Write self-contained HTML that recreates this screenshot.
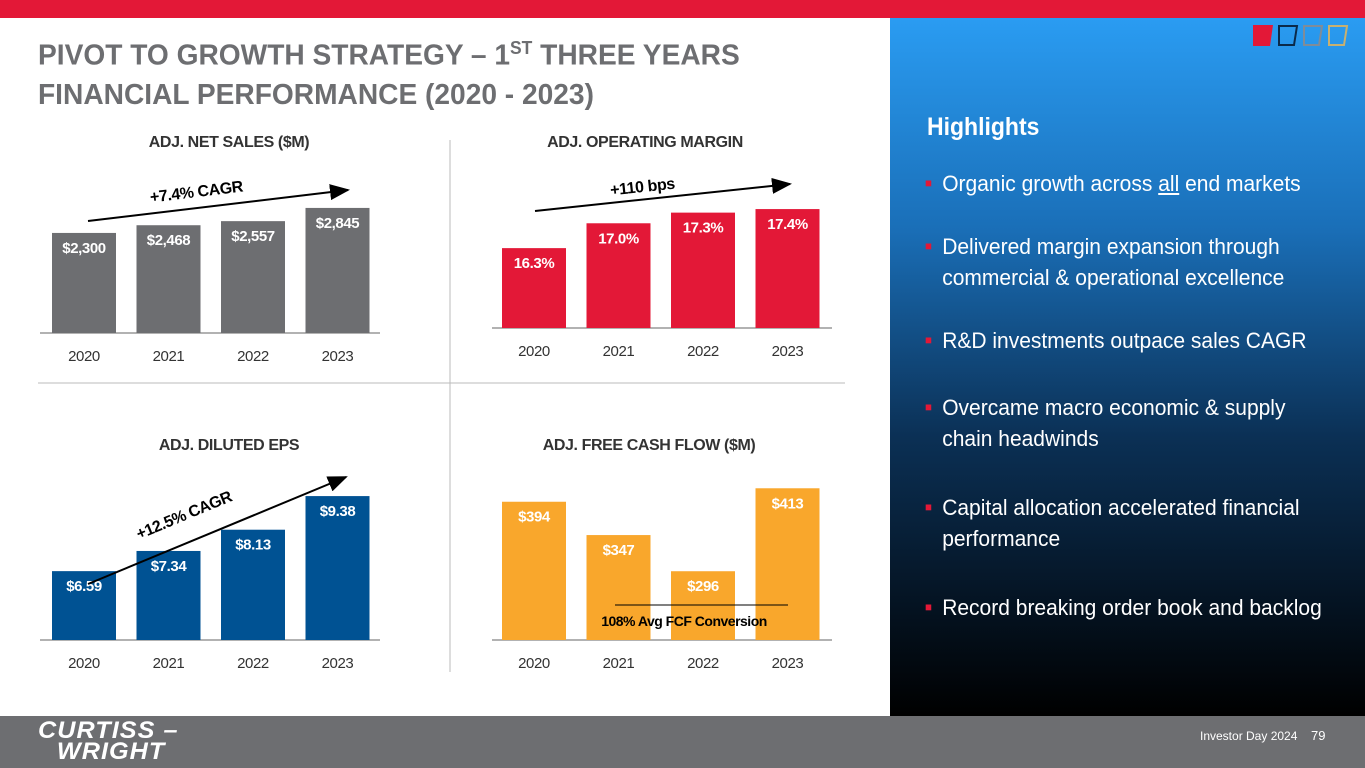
<!DOCTYPE html>
<html><head><meta charset="utf-8"><style>
body{margin:0;width:1365px;height:768px;overflow:hidden;background:#fff;font-family:"Liberation Sans",sans-serif;position:relative}
.abs{position:absolute}
</style></head><body>
<div class="abs" style="left:0;top:0;width:1365px;height:18px;background:#e31837"></div>
<div class="abs" style="left:890px;top:18px;width:475px;height:698px;background:linear-gradient(#2a9cf2 0%,#1a6fb8 30%,#0b3055 60%,#000 100%)"></div>
<div class="abs" style="left:0;top:716px;width:1365px;height:52px;background:#6d6e71"></div>
<div class="abs" style="left:38px;top:29px;font-size:29px;font-weight:bold;color:#6d6e71;line-height:39px;transform:scaleX(0.97);transform-origin:0 0;white-space:nowrap">PIVOT TO GROWTH STRATEGY – 1<sup style="font-size:18px">ST</sup> THREE YEARS<br>FINANCIAL PERFORMANCE (2020 - 2023)</div>
<svg class="abs" style="left:1250px;top:22px" width="110" height="28">
<polygon points="3,3 23,3 20,24 3,24" fill="#e31837"/>
<polygon points="29,4 47,4 44,23 29,23" fill="none" stroke="#0b2a4a" stroke-width="2"/>
<polygon points="54,4 72,4 69,23 54,23" fill="none" stroke="#7f8c99" stroke-width="2"/>
<polygon points="79,4 97,4 94,23 79,23" fill="none" stroke="#c8b070" stroke-width="2"/>
</svg>
<svg id="charts" class="abs" style="left:0;top:0" width="890" height="716" font-family="Liberation Sans, sans-serif"></svg>
<div class="abs" style="left:927px;top:113px;font-size:25px;font-weight:bold;color:#fff;transform:scaleX(0.92);transform-origin:0 0">Highlights</div>
<div class="abs" style="left:925px;top:168px;color:#fff;font-size:22px;line-height:31px;width:460px;transform:scaleX(0.955);transform-origin:0 0">
<div style="position:absolute;top:0"><span style="color:#e31837;font-size:12px;position:absolute;left:0;top:0">■</span><div style="margin-left:18px;width:420px">Organic growth across <u>all</u> end markets</div></div>
<div style="position:absolute;top:63px"><span style="color:#e31837;font-size:12px;position:absolute;left:0;top:0">■</span><div style="margin-left:18px;width:420px">Delivered margin expansion through<br>commercial &amp; operational excellence</div></div>
<div style="position:absolute;top:157px"><span style="color:#e31837;font-size:12px;position:absolute;left:0;top:0">■</span><div style="margin-left:18px;width:420px">R&amp;D investments outpace sales CAGR</div></div>
<div style="position:absolute;top:224px"><span style="color:#e31837;font-size:12px;position:absolute;left:0;top:0">■</span><div style="margin-left:18px;width:420px">Overcame macro economic &amp; supply<br>chain headwinds</div></div>
<div style="position:absolute;top:324px"><span style="color:#e31837;font-size:12px;position:absolute;left:0;top:0">■</span><div style="margin-left:18px;width:420px">Capital allocation accelerated financial<br>performance</div></div>
<div style="position:absolute;top:424px"><span style="color:#e31837;font-size:12px;position:absolute;left:0;top:0">■</span><div style="margin-left:18px;width:420px">Record breaking order book and backlog</div></div>
</div>
<div class="abs" style="left:38px;top:720px;color:#fff;font-weight:900;font-style:italic;font-size:24px;line-height:21px;letter-spacing:1px;transform:scaleX(1.05);transform-origin:0 0">CURTISS –<br><span style="margin-left:18px">WRIGHT</span></div>
<div class="abs" style="left:1200px;top:729px;color:#fff;font-size:12px">Investor Day 2024</div>
<div class="abs" style="left:1311px;top:728px;color:#fff;font-size:13px">79</div>
<script>
const years=["2020","2021","2022","2023"];
const salesValues=[2300,2468,2557,2845];
const salesLabels=["$2,300","$2,468","$2,557","$2,845"];
const marginValues=[16.3,17.0,17.3,17.4];
const marginLabels=["16.3%","17.0%","17.3%","17.4%"];
const epsValues=[6.59,7.34,8.13,9.38];
const epsLabels=["$6.59","$7.34","$8.13","$9.38"];
const fcfValues=[394,347,296,413];
const fcfLabels=["$394","$347","$296","$413"];
const NS="http://www.w3.org/2000/svg";
const svg=document.getElementById('charts');
function mk(tag,attrs,parent){const e=document.createElementNS(NS,tag);for(const k in attrs)e.setAttribute(k,attrs[k]);(parent||svg).appendChild(e);return e;}
function txt(s,attrs,parent){const t=mk('text',attrs,parent);t.textContent=s;return t;}
mk('defs',{}).innerHTML='<marker id="ah" markerWidth="10" markerHeight="8" refX="9" refY="4" orient="auto"><polygon points="0,0 10,4 0,8" fill="#000"/></marker>';
const d1=mk('line',{x1:450,y1:140,x2:450,y2:672,stroke:'#bbb','stroke-width':1});

const d2=mk('line',{x1:38,y1:383,x2:845,y2:383,stroke:'#bbb','stroke-width':1});

function chart(name,title,titleX,titleY,x0,baseY,vals,labels,color,scale,vmin,axisX1,axisX2){
  const g=mk('g',{});
  
  
  const t=txt(title,{x:titleX,y:titleY,'text-anchor':'middle','font-size':16,'font-weight':'bold',fill:'#333','letter-spacing':-0.4},g);
  
  const ax=mk('line',{x1:axisX1,y1:baseY,x2:axisX2,y2:baseY,stroke:'#999','stroke-width':1.5},g);
  
  vals.forEach((v,i)=>{
    const h=(v-vmin)*scale,x=x0+i*84.5;
    const r=mk('rect',{x:x,y:baseY-h,width:64,height:h,fill:color},g);
    
    
    const l=txt(labels[i],{x:x+32,y:baseY-h+20,'text-anchor':'middle','font-size':15,'font-weight':'bold',fill:'#fff','letter-spacing':-0.4},g);
    
    
    const y=txt(years[i],{x:x+32,y:baseY+28,'text-anchor':'middle','font-size':15,fill:'#333','letter-spacing':-0.4},g);
    
    
  });
  return g;
}
chart('net-sales-chart','ADJ. NET SALES ($M)',229,147,52,333,salesValues,salesLabels,'#6d6e71',0.0459,120,40,380);
chart('operating-margin-chart','ADJ. OPERATING MARGIN',645,147,502,328,marginValues,marginLabels,'#e31837',35.5,14.05,492,832);
chart('eps-chart','ADJ. DILUTED EPS',229,450,52,640,epsValues,epsLabels,'#005293',26.9,4.03,40,380);
chart('fcf-chart','ADJ. FREE CASH FLOW ($M)',649,450,502,640,fcfValues,fcfLabels,'#f9a72c',0.709,199,492,832);
function arrow(name,x1,y1,x2,y2,label,lx,ly){
  const a=mk('line',{x1:x1,y1:y1,x2:x2,y2:y2,stroke:'#000','stroke-width':2,'marker-end':'url(#ah)'});
  
  const ang=Math.atan2(y2-y1,x2-x1)*180/Math.PI;
  const t=txt(label,{x:lx,y:ly,'text-anchor':'middle','font-size':16,'font-weight':'bold',fill:'#000','letter-spacing':-0.4,transform:`rotate(${ang} ${lx} ${ly})`});
  
}
arrow('sales-cagr',88,221,348,190,'+7.4% CAGR',197,197);
arrow('margin-bps',535,211,790,184,'+110 bps',643,192);
arrow('eps-cagr',88,584,346,477,'+12.5% CAGR',186,520);
const fl=mk('line',{x1:615,y1:605,x2:788,y2:605,stroke:'#000','stroke-width':1});

const ft=txt('108% Avg FCF Conversion',{x:684,y:626,'text-anchor':'middle','font-size':14,'font-weight':'bold',fill:'#000','letter-spacing':-0.5});

</script>
</body></html>
